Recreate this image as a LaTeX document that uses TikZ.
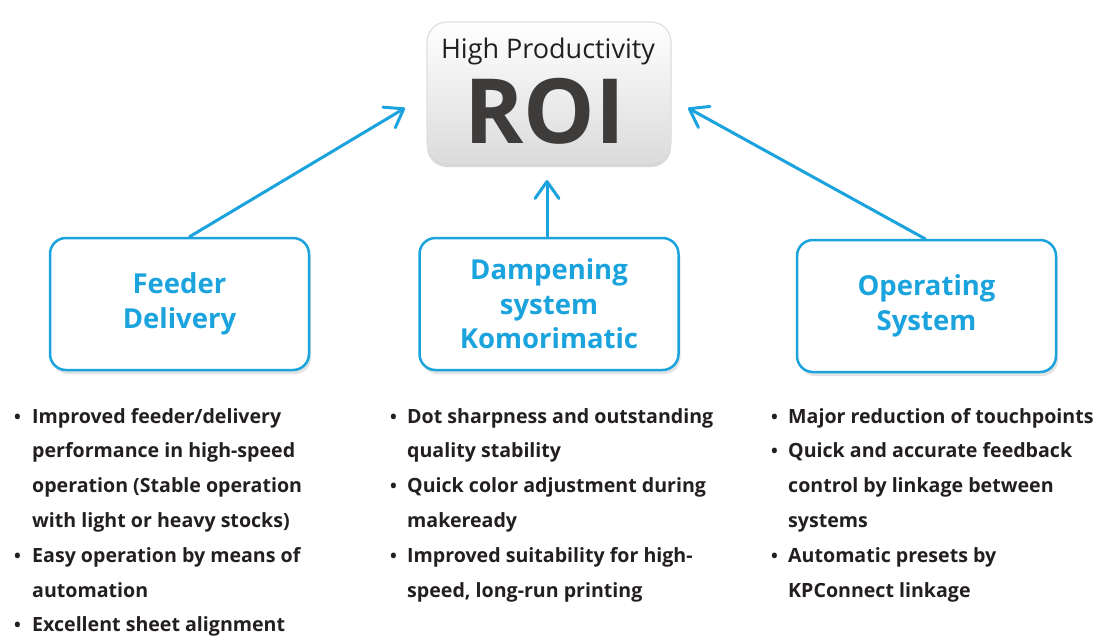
\documentclass[tikz,border=0pt]{standalone}
\usepackage{fontspec}
\setmainfont{Open Sans}
\usetikzlibrary{shadows,arrows.meta}
\definecolor{kblue}{HTML}{1BA3DE}
\definecolor{roigray}{HTML}{3E3B3B}
\definecolor{txt}{HTML}{231F20}
\tikzset{
  fbox/.style={draw=kblue, line width=2.5pt, rounded corners=16pt, fill=white,
    minimum width=259pt, minimum height=132pt,
    drop shadow={opacity=0.22, shadow xshift=2pt, shadow yshift=-4pt},
    align=center, font=\bfseries\fontsize{27.5}{34.5}\selectfont, text=kblue},
  roibox/.style={draw=gray!25, line width=1.2pt, rounded corners=20pt,
    top color=white, bottom color=gray!28,
    minimum width=244pt, minimum height=140pt,
    drop shadow={opacity=0.3, shadow xshift=0pt, shadow yshift=-5pt}},
  conn/.style={draw=kblue, line width=3pt, line cap=round,
    -{Straight Barb[length=17pt,width=24pt,line width=3pt,round]}},
  btxt/.style={anchor=base west, inner sep=0pt, text=txt,
    font=\bfseries\fontsize{19.6}{19.6}\selectfont},
  bdot/.style={anchor=base west, inner sep=0pt, text=txt,
    font=\bfseries\fontsize{18}{18}\selectfont}
}
\begin{document}
\begin{tikzpicture}[x=1pt,y=-1pt]
\useasboundingbox[fill=white] (0,0) rectangle (1094,635);

% ROI box
\node[roibox] (roi) at (549,92) {};
\node[anchor=base, inner sep=0pt, text=txt, font=\fontsize{27}{27}\selectfont] (hp) at (548,58) {High Productivity};
\node[anchor=base, inner sep=0pt, text=roigray, font=\bfseries\fontsize{90}{90}\selectfont] (roitxt) at (545,143) {ROI};

% three boxes
\node[fbox] (feeder) at (179.5,304) {Feeder\\Delivery};
\node[fbox] (damp) at (549,304) {Dampening\\system\\Komorimatic};
\node[fbox] (opsys) at (926.5,306) {Operating\\System};

% arrow ends
\coordinate (lt) at (405,108);
\coordinate (rt) at (688,108);
\coordinate (mt) at (547,180);

\draw[conn] ([xshift=10pt]feeder.north) -- (lt);
\draw[conn] ([xshift=-2pt]damp.north) -- (mt);
\draw[conn] ([xshift=-1.5pt]opsys.north) -- (rt);

% left column
\node[bdot] (lb1) at (14,423) {•};
\node[btxt] (l1) at (32,423) {Improved feeder/delivery};
\node[btxt] (l2) at (32,457.8) {performance in high-speed};
\node[btxt] (l3) at (32,492.6) {operation (Stable operation};
\node[btxt] (l4) at (32,527.4) {with light or heavy stocks)};
\node[bdot] (lb2) at (14,562.2) {•};
\node[btxt] (l5) at (32,562.2) {Easy operation by means of};
\node[btxt] (l6) at (32,597) {automation};
\node[bdot] (lb3) at (14,631) {•};
\node[btxt] (l7) at (32,631) {Excellent sheet alignment};

% middle column
\node[bdot] (mb1) at (390,423) {•};
\node[btxt] (m1) at (407,423) {Dot sharpness and outstanding};
\node[btxt] (m2) at (407,457.8) {quality stability};
\node[bdot] (mb2) at (390,492.6) {•};
\node[btxt] (m3) at (407,492.6) {Quick color adjustment during};
\node[btxt] (m4) at (407,527.4) {makeready};
\node[bdot] (mb3) at (390,562.2) {•};
\node[btxt] (m5) at (407,562.2) {Improved suitability for high-};
\node[btxt] (m6) at (407,597) {speed, long-run printing};

% right column
\node[bdot] (rb1) at (771,423) {•};
\node[btxt] (r1) at (788,423) {Major reduction of touchpoints};
\node[bdot] (rb2) at (771,457.8) {•};
\node[btxt] (r2) at (788,457.8) {Quick and accurate feedback};
\node[btxt] (r3) at (788,492.6) {control by linkage between};
\node[btxt] (r4) at (788,527.4) {systems};
\node[bdot] (rb3) at (771,562.2) {•};
\node[btxt] (r5) at (788,562.2) {Automatic presets by};
\node[btxt] (r6) at (788,597) {KPConnect linkage};
\end{tikzpicture}
\end{document}
